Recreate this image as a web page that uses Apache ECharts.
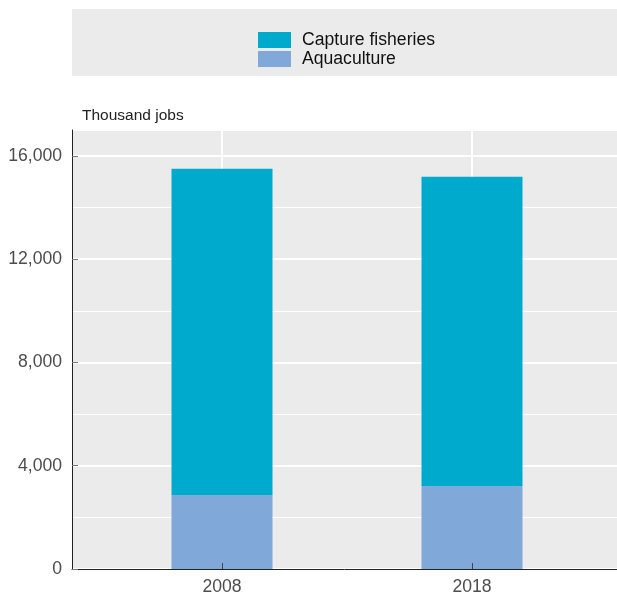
<!DOCTYPE html>
<html>
<head>
<meta charset="utf-8">
<script src="https://cdn.jsdelivr.net/npm/echarts@6/dist/echarts.min.js"></script>
<style>
  html, body { margin: 0; padding: 0; background: #ffffff; }
  #chart { width: 617px; height: 593px; }
</style>
</head>
<body>
<div id="chart"></div>
<script>
// ---- data ----
var years = ['2008', '2018'];
var aquaculture = [2870, 3215];
var captureFisheries = [12630, 11970];
var yTicks = [0, 4000, 8000, 12000, 16000];
var seriesNames = ['Capture fisheries', 'Aquaculture'];
var yAxisName = 'Thousand jobs';

var FONT = '"Liberation Sans", Arial, Helvetica, sans-serif';
var chart = echarts.init(document.getElementById('chart'), null, { renderer: 'canvas' });

var option = {
  animation: false,
  backgroundColor: '#ffffff',
  textStyle: { fontFamily: FONT },
  graphic: [{
    type: 'rect', z: -1,
    shape: { x: 72, y: 9, width: 545, height: 67 },
    style: { fill: '#ebebeb' }
  }],
  legend: {
    data: seriesNames,
    orient: 'vertical',
    left: 258, top: 31,
    padding: 0,
    itemWidth: 33, itemHeight: 16, itemGap: 1,
    icon: 'rect',
    selectedMode: false,
    textStyle: { fontFamily: FONT, fontSize: 17.6, color: '#111111', lineHeight: 16, padding: [0, 0, 0, 6] }
  },
  grid: [
    { left: 72, right: 0, top: 130, bottom: 24, show: true, backgroundColor: '#ebebeb', borderWidth: 0,
      containLabel: false, outerBoundsMode: 'none' },
    { left: 222, width: 250, top: 130, bottom: 24, show: false,
      containLabel: false, outerBoundsMode: 'none' }
  ],
  xAxis: [
    { gridIndex: 0, type: 'value', min: 0, max: 1, z: 5, position: 'bottom',
      axisLine: { show: true, lineStyle: { color: '#222222', width: 1 } },
      axisTick: { show: false }, axisLabel: { show: false }, splitLine: { show: false } },
    { gridIndex: 1, type: 'category', data: years, boundaryGap: false, position: 'bottom',
      axisLine: { show: false }, axisTick: { show: false }, axisLabel: { show: false },
      splitLine: { show: true, lineStyle: { color: '#ffffff', width: 2 } } },
    { gridIndex: 1, type: 'category', data: years, boundaryGap: false, z: 5, position: 'bottom',
      axisLine: { show: false },
      axisTick: { show: true, inside: true, length: 6, lineStyle: { color: '#444444', width: 1 } },
      axisLabel: { show: true, margin: 9, fontFamily: FONT, fontSize: 17.6, color: '#4d4d4d' },
      splitLine: { show: false } }
  ],
  yAxis: [
    { gridIndex: 0, type: 'value', min: 0, max: 17000, interval: 2000, position: 'left',
      axisLine: { show: false }, axisTick: { show: false }, axisLabel: { show: false },
      splitLine: { show: true, lineStyle: { color: '#ffffff', width: 1 } } },
    { gridIndex: 0, type: 'value', min: 0, max: 17000, interval: 4000, position: 'left',
      axisLine: { show: false }, axisTick: { show: false }, axisLabel: { show: false },
      splitLine: { show: true, lineStyle: { color: '#ffffff', width: 2 } } },
    { gridIndex: 0, type: 'value', min: 0, max: 17000, interval: 4000, position: 'left', z: 5,
      name: yAxisName, nameLocation: 'end', nameGap: 6,
      nameTextStyle: { fontFamily: FONT, fontSize: 15.5, color: '#222222', align: 'left', padding: [0, 0, 0, 10] },
      axisLine: { show: true, lineStyle: { color: '#222222', width: 1 } },
      axisTick: { show: true, inside: true, length: 6, customValues: yTicks, lineStyle: { color: '#777777', width: 1 } },
      axisLabel: { show: true, margin: 10, customValues: yTicks,
        fontFamily: FONT, fontSize: 17.6, color: '#4d4d4d',
        formatter: function (v) { return Number(v).toLocaleString('en-US'); } },
      splitLine: { show: false } },
    { gridIndex: 1, type: 'value', min: 0, max: 17000, show: false, splitLine: { show: false } }
  ],
  series: [
    { name: seriesNames[1], type: 'bar', stack: 'total', xAxisIndex: 1, yAxisIndex: 3,
      barWidth: 101, clip: false, itemStyle: { color: '#80a8d9' }, data: aquaculture },
    { name: seriesNames[0], type: 'bar', stack: 'total', xAxisIndex: 1, yAxisIndex: 3,
      barWidth: 101, clip: false, itemStyle: { color: '#00aacd' }, data: captureFisheries }
  ]
};
chart.setOption(option);
</script>
</body>
</html>
